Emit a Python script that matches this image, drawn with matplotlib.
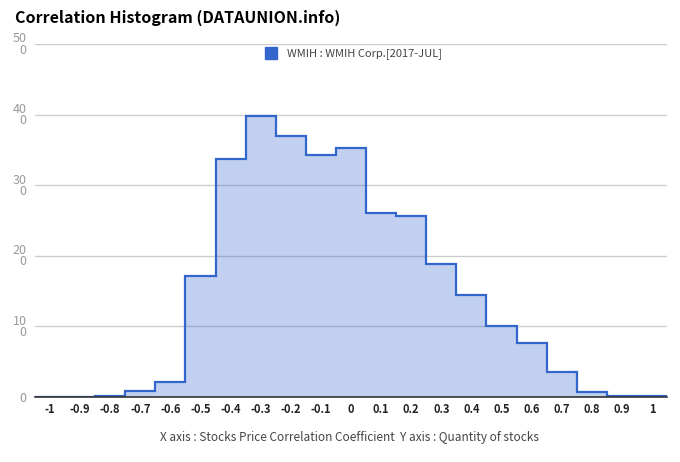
import matplotlib
matplotlib.use("Agg")
import matplotlib.pyplot as plt
import numpy as np

plt.rcParams["font.family"] = ["Noto Sans CJK KR", "DejaVu Sans"]

# bin centres and counts
bin_centers = [-1.0, -0.9, -0.8, -0.7, -0.6, -0.5, -0.4, -0.3, -0.2, -0.1, 0.0,
               0.1, 0.2, 0.3, 0.4, 0.5, 0.6, 0.7, 0.8, 0.9, 1.0]
counts = [0, 0, 2, 9, 21, 171, 337, 398, 369, 343, 353,
          260, 256, 188, 145, 100, 77, 35, 7, 1, 1]
x_ticks = [-1, -0.9, -0.8, -0.7, -0.6, -0.5, -0.4, -0.3, -0.2, -0.1, 0,
           0.1, 0.2, 0.3, 0.4, 0.5, 0.6, 0.7, 0.8, 0.9, 1]
y_ticks = [0, 100, 200, 300, 400, 500]
y_tick_labels = ["0", "10\n0", "20\n0", "30\n0", "40\n0", "50\n0"]
series_name = "WMIH : WMIH Corp.[2017-JUL]"

blue = "#3366CC"

fig = plt.figure(figsize=(6.8, 4.62), dpi=100)
ax = fig.add_axes([35 / 680, 1 - 397 / 462, 632 / 680, 353 / 462])

centers = np.array(bin_centers)
edges = np.append(centers - 0.05, centers[-1] + 0.05)
ax.stairs(counts, edges, fill=True, color=blue, alpha=0.3, linewidth=0)
ax.stairs(counts, edges, color=blue, linewidth=1.6)
ax.plot([], [], marker="s", linestyle="none", color=blue, markersize=9,
        label=series_name)

ax.set_xlim(edges[0], edges[-1])
ax.set_ylim(0, 500)
ax.set_xticks(x_ticks)
ax.set_xticklabels([f"{t:g}" for t in x_ticks], fontsize=8,
                   fontweight="bold", color="#222222")
ax.set_yticks(y_ticks)
ax.set_yticklabels(y_tick_labels, fontsize=9, color="#999999",
                   linespacing=0.8)
ax.tick_params(axis="both", length=0)
ax.tick_params(axis="y", pad=6)
ax.tick_params(axis="x", pad=4)
ax.grid(axis="y", color="#cccccc", linewidth=1)
ax.set_axisbelow(True)
for side in ["top", "right", "left"]:
    ax.spines[side].set_visible(False)
ax.spines["bottom"].set_color("#333333")
ax.spines["bottom"].set_linewidth(1.2)
ax.spines["bottom"].set_zorder(5)

ax.legend(loc="upper center", bbox_to_anchor=(0.5, 1.0), frameon=False,
          fontsize=8, labelcolor="#444444", handletextpad=0.4,
          borderaxespad=0.0)

fig.text(15 / 680, 1 - 18 / 462, "Correlation Histogram (DATAUNION.info)",
         fontsize=11.5, fontweight="bold", va="center", ha="left")
fig.text(350 / 680, 1 - 437 / 462,
         "X axis : Stocks Price Correlation Coefficient  Y axis : Quantity of stocks",
         fontsize=8.5, color="#444444", va="center", ha="center")

fig.savefig("out.png", dpi=100)
